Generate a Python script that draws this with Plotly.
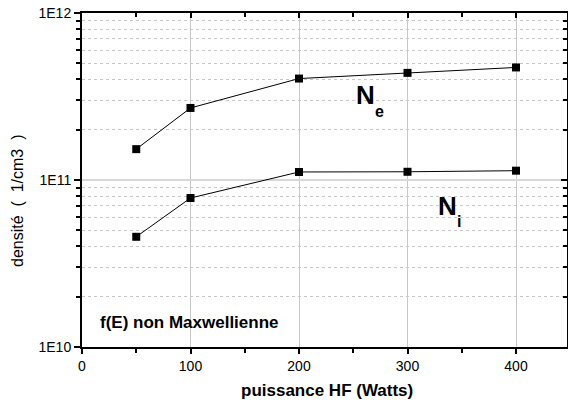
import plotly.graph_objects as go

power = [50, 100, 200, 300, 400]
ne_vals = [1.53e11, 2.70e11, 4.05e11, 4.38e11, 4.72e11]
ni_vals = [4.57e10, 7.8e10, 1.117e11, 1.12e11, 1.137e11]

y_tickvals = [1e10, 1e11, 1e12]
y_ticktext = ["1E10", "1E11", "1E12"]
x_tickvals = [0, 100, 200, 300, 400]
x_minor = [50, 150, 250, 350]
y_minor = [m * 10 ** e for e in (10, 11) for m in range(2, 10)]

FONT = "Arial, Liberation Sans, sans-serif"

fig = go.Figure()
marker = dict(symbol="square", size=8, color="black")
fig.add_trace(go.Scatter(x=power, y=ne_vals, mode="lines+markers",
                         line=dict(color="black", width=1), marker=marker,
                         showlegend=False))
fig.add_trace(go.Scatter(x=power, y=ni_vals, mode="lines+markers",
                         line=dict(color="black", width=1), marker=marker,
                         showlegend=False))
# invisible trace for mirrored axes
fig.add_trace(go.Scatter(x=[power[0]], y=[ne_vals[0]], xaxis="x2", yaxis="y2",
                         mode="markers", marker=dict(opacity=0), showlegend=False,
                         hoverinfo="skip"))

xr = [0, 447]
yr = [10, 12]

fig.update_layout(
    width=568, height=405,
    margin=dict(l=82, r=1, t=13, b=58),
    paper_bgcolor="white", plot_bgcolor="white",
    font=dict(family=FONT, size=14, color="black"),
    xaxis=dict(range=xr, tickvals=x_tickvals, ticks="outside", ticklen=5,
               tickwidth=1.5, tickcolor="black",
               showline=True, linecolor="black", linewidth=2,
               showgrid=True, gridcolor="#c8c8c8", gridwidth=1,
               zeroline=False,
               minor=dict(tickvals=x_minor, ticks="outside", ticklen=4,
                          tickcolor="black", showgrid=False),
               tickfont=dict(size=14, family=FONT)),
    yaxis=dict(type="log", range=yr, tickvals=y_tickvals, ticktext=y_ticktext,
               ticks="outside", ticklen=6, tickwidth=1.5, tickcolor="black",
               showline=True, linecolor="black", linewidth=2,
               showgrid=True, gridcolor="#d8d8d8", gridwidth=1.5,
               zeroline=False,
               minor=dict(tickvals=y_minor, ticks="outside", ticklen=4,
                          tickcolor="black", showgrid=True,
                          gridcolor="#c8c8c8", griddash="dot", gridwidth=1),
               tickfont=dict(size=14, family=FONT)),
    xaxis2=dict(range=xr, overlaying="x", side="top", tickvals=x_tickvals,
                ticks="inside", ticklen=5, tickwidth=1.5, tickcolor="black",
                showticklabels=False, showline=True, linecolor="black",
                linewidth=2, showgrid=False, zeroline=False,
                minor=dict(tickvals=x_minor, ticks="inside", ticklen=4,
                           tickcolor="black")),
    yaxis2=dict(type="log", range=yr, overlaying="y", side="right",
                tickvals=y_tickvals, ticks="inside", ticklen=6, tickwidth=1.5,
                tickcolor="black", showticklabels=False, showline=True,
                linecolor="black", linewidth=2, showgrid=False, zeroline=False,
                minor=dict(tickvals=y_minor, ticks="inside", ticklen=4,
                           tickcolor="black")),
)


def px_to_x(px):
    return (px - 82) / 485 * (xr[1] - xr[0]) + xr[0]


def py_to_y(py):
    return yr[1] - (py - 13) / 334 * (yr[1] - yr[0])


fig.add_annotation(text="<b>puissance HF (Watts)</b>", xref="paper", yref="paper",
                   x=(327 - 82) / 485, y=(347 - 390) / 334, xanchor="center",
                   yanchor="middle", showarrow=False, font=dict(size=17, family=FONT))
fig.add_annotation(text="densité &nbsp;( &nbsp;1/cm3 &nbsp;)", xref="paper", yref="paper",
                   x=(17 - 82) / 485, y=(347 - 201) / 334, xanchor="center",
                   yanchor="middle", textangle=-90, showarrow=False,
                   font=dict(size=16, family=FONT))
fig.add_annotation(text="<b>f(E) non Maxwellienne</b>", x=px_to_x(189), y=py_to_y(322),
                   xanchor="center", yanchor="middle", showarrow=False,
                   font=dict(size=17, family=FONT))
# N_e
fig.add_annotation(text="<b>N</b>", x=px_to_x(354), y=py_to_y(95),
                   xanchor="left", yanchor="middle", showarrow=False,
                   font=dict(size=26, family=FONT))
fig.add_annotation(text="<b>e</b>", x=px_to_x(373), y=py_to_y(111),
                   xanchor="left", yanchor="middle", showarrow=False,
                   font=dict(size=16, family=FONT))
# N_i
fig.add_annotation(text="<b>N</b>", x=px_to_x(436), y=py_to_y(206),
                   xanchor="left", yanchor="middle", showarrow=False,
                   font=dict(size=26, family=FONT))
fig.add_annotation(text="<b>i</b>", x=px_to_x(455), y=py_to_y(221),
                   xanchor="left", yanchor="middle", showarrow=False,
                   font=dict(size=16, family=FONT))

fig.write_html("out.html", config={"displayModeBar": False},
               post_script="document.body.style.margin='0';document.body.style.overflow='hidden';")
